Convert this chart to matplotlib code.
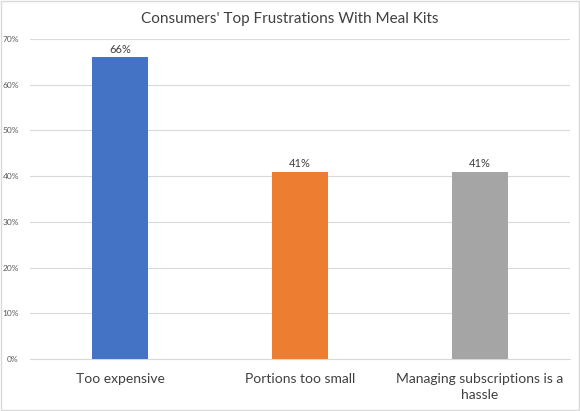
import matplotlib.pyplot as plt
from matplotlib.patches import Rectangle
from matplotlib.ticker import PercentFormatter

categories = ["Too expensive", "Portions too small", "Managing subscriptions is a\nhassle"]
values = [66, 41, 41]
colors = ["#4472C4", "#ED7D31", "#A5A5A5"]
yticks = [0, 10, 20, 30, 40, 50, 60, 70]

plt.rcParams['font.family'] = ['Lato', 'DejaVu Sans']

fig = plt.figure(figsize=(5.8, 4.11), dpi=100)
ax = fig.add_axes([0.0517, 0.1265, 0.931, 0.7785])

x = range(len(categories))
bars = ax.bar(x, values, width=0.31, color=colors, zorder=3)
for b, v in zip(bars, values):
    ax.text(b.get_x() + b.get_width() / 2, v + 0.6, f"{v}%", ha='center', va='bottom',
            fontsize=8, color='#404040')

ax.set_xlim(-0.5, 2.5)
ax.set_ylim(0, 70)
ax.set_yticks(yticks)
ax.yaxis.set_major_formatter(PercentFormatter(decimals=0))
ax.set_xticks(list(x))
ax.set_xticklabels(categories, fontsize=10, color='#404040', linespacing=1.45)
ax.tick_params(axis='y', labelsize=6, colors='#595959', length=0, pad=8)
ax.tick_params(axis='x', length=0, pad=10)
ax.grid(axis='y', color='#D9D9D9', linewidth=0.8, zorder=0)
for s in ['top', 'right', 'left']:
    ax.spines[s].set_visible(False)
ax.spines['bottom'].set_color('#D9D9D9')

fig.text(0.5, 0.954, "Consumers' Top Frustrations With Meal Kits", ha='center', va='center',
         fontsize=11, color='#404040')
fig.patches.append(Rectangle((0.002, 0.002), 0.996, 0.996, transform=fig.transFigure,
                             fill=False, edgecolor='#D9D9D9', linewidth=1))

fig.savefig("out.png", dpi=100)
